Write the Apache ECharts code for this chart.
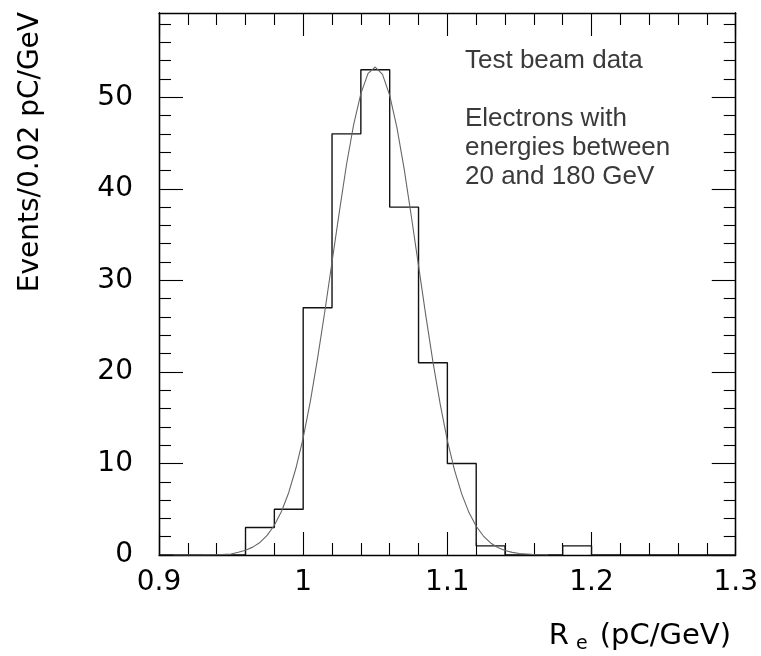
<!DOCTYPE html>
<html>
<head>
<meta charset="utf-8">
<script src="https://cdn.jsdelivr.net/npm/echarts@6/dist/echarts.min.js"></script>
<style>html,body{margin:0;padding:0;background:#fff;}#c{width:761px;height:656px;}</style>
</head>
<body>
<div id="c"></div>
<script>
// Histogram bins (lower edges, width 0.02) and counts
var binLow = [0.90,0.92,0.94,0.96,0.98,1.00,1.02,1.04,1.06,1.08,1.10,1.12,1.14,1.16,1.18,1.20,1.22,1.24,1.26,1.28];
var counts = [0,0,0,3,5,27,46,53,38,21,10,1,0,0,1,0,0,0,0,0];
var histEnd = 1.30;
// Fit curve
var fitX = [0.91,0.93,0.94,0.95,0.955,0.96,0.965,0.97,0.975,0.98,0.985,0.99,0.995,1.00,1.005,1.01,1.015,1.02,1.025,1.03,1.035,1.04,1.045,1.05,1.055,1.06,1.065,1.07,1.075,1.08,1.085,1.09,1.095,1.10,1.105,1.11,1.115,1.12,1.125,1.13,1.135,1.14,1.145,1.15,1.16,1.17];
var fitY = [0.0,0.01,0.03,0.1,0.3,0.52,0.86,1.37,2.14,3.25,4.78,6.83,9.5,12.8,16.8,21.5,26.6,32.0,37.4,42.6,47.0,50.4,52.6,53.3,52.5,50.2,46.7,42.2,37.0,31.6,26.2,21.1,16.5,12.5,9.25,6.65,4.63,3.14,2.07,1.32,0.82,0.5,0.29,0.17,0.05,0.01];
// Axis ticks
var yMajor = [0,10,20,30,40,50];
var yMinor = [2,4,6,8,12,14,16,18,22,24,26,28,32,34,36,38,42,44,46,48,52,54,56,58];
var yMax = 59.2;
var xMin = 0.9, xMax = 1.3, xStep = 0.1;
var annot = ["Test beam data", "Electrons with", "energies between", "20 and 180 GeV"];

var histData = binLow.map(function(x,i){return [x, counts[i]];});
histData.push([histEnd, 0]);
var fitData = fitX.map(function(x,i){return [x, fitY[i]];});

var axCol = '#000';
function yAx(pos, vals, len, lbl){
  return {type:'value', position:pos, min:0, max:yMax,
    axisLine:{show:true, lineStyle:{color:axCol, width:1.3}},
    axisTick:{show:true, inside:true, length:len, customValues:vals, lineStyle:{color:axCol, width:1.1}},
    axisLabel:{show:lbl, customValues:vals, fontFamily:'DejaVu Sans', fontSize:28, color:'#000', margin:26},
    splitLine:{show:false}};
}
function xAx(pos, lbl){
  return {type:'value', position:pos, min:xMin, max:xMax, interval:xStep,
    axisLine:{show:true, onZero:false, lineStyle:{color:axCol, width:1.3}},
    axisTick:{show:true, inside:true, length:23, lineStyle:{color:axCol, width:1.1}},
    minorTick:{show:true, splitNumber:5, length:12, lineStyle:{color:axCol, width:1.1}},
    axisLabel:{show:lbl, fontFamily:'DejaVu Sans', fontSize:28, color:'#000', margin:14,
      formatter:function(v){return (Math.round(v*10)/10).toString();}},
    splitLine:{show:false}, minorSplitLine:{show:false}};
}

var chart = echarts.init(document.getElementById('c'), null, {renderer:'canvas'});
var graphics = [];
var annY = [61, 119, 148, 177];
annot.forEach(function(t,i){
  graphics.push({type:'text', x:465, y:annY[i], style:{text:t, fontFamily:'Liberation Sans', fontSize:26, fill:'#3a3a3a', align:'left', verticalAlign:'middle'}});
});
graphics.push({type:'text', x:31, y:12, rotation:Math.PI/2,
  style:{text:'Events/0.02 pC/GeV', fontFamily:'DejaVu Sans', fontSize:28, fill:'#000', align:'right', verticalAlign:'middle'}});
graphics.push({type:'text', x:731, y:636,
  style:{text:'R{sub|e} (pC/GeV)', fontFamily:'DejaVu Sans', fontSize:29, fill:'#000', align:'right', verticalAlign:'middle',
    rich:{sub:{fontFamily:'DejaVu Sans', fontSize:19, fill:'#000', padding:[16,3,0,7]}}}});

chart.setOption({
  animation:false,
  backgroundColor:'#fff',
  grid:{left:159, right:25, top:13, bottom:101, containLabel:false},
  xAxis:[xAx('bottom', true), xAx('top', false)],
  yAxis:[yAx('left', yMajor, 24, true), yAx('left', yMinor, 12, false), yAx('right', yMajor, 24, false), yAx('right', yMinor, 12, false)],
  series:[
    {type:'line', xAxisIndex:0, yAxisIndex:0, data:histData, step:'end', symbol:'none',
     lineStyle:{color:'#111', width:1.4}, z:3},
    {type:'line', xAxisIndex:0, yAxisIndex:0, data:fitData, smooth:false, symbol:'none',
     lineStyle:{color:'#666', width:1.1}, z:4}
  ],
  graphic:graphics
});
</script>
</body>
</html>
